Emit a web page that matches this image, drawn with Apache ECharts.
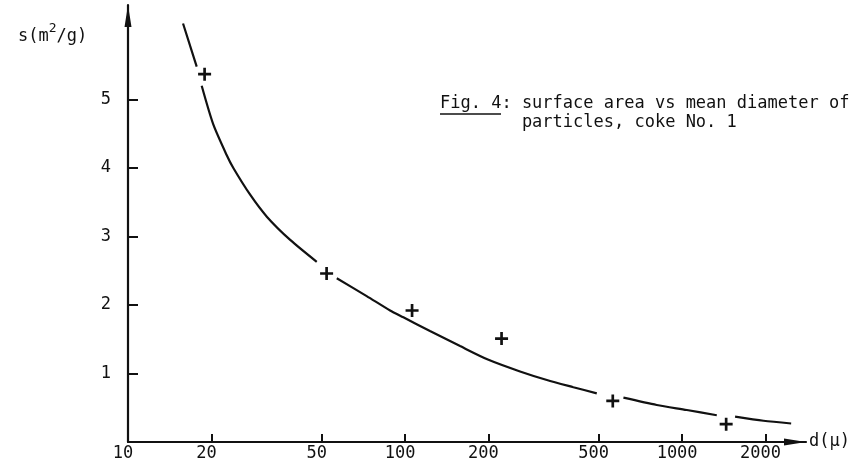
<!DOCTYPE html>
<html>
<head>
<meta charset="utf-8">
<script src="https://cdn.jsdelivr.net/npm/echarts@6/dist/echarts.min.js"></script>
<style>
html,body{margin:0;padding:0;background:#fff;}
#c{width:865px;height:467px;}
</style>
</head>
<body>
<div id="c"></div>
<script>
// Measured points (crosses)
const pointD = [18.9, 52.1, 106, 223, 562, 1442];
const pointS = [5.37, 2.46, 1.92, 1.51, 0.60, 0.26];

// Hand-drawn fitted curve (null = pen gap near a cross)
const curveD = [15.8, 17.7, 18.1, 18.45, 20.3, 22.7, 24.0, 27.6, 31.7, 38.5, 48.0, 52, 56.7, 72.7, 88.3, 98.6, 123, 158, 200, 260, 325, 405, 492, 550, 614, 810, 1040, 1334, 1440, 1553, 1966, 2475];
const curveS = [6.11, 5.48, null, 5.20, 4.64, 4.19, 4.00, 3.61, 3.29, 2.95, 2.63, null, 2.39, 2.13, 1.92, 1.82, 1.62, 1.40, 1.20, 1.03, 0.905, 0.80, 0.71, null, 0.647, 0.54, 0.467, 0.39, null, 0.37, 0.31, 0.27];

const xLabels = [10, 20, 50, 100, 200, 500, 1000, 2000];
const xTicks = [20, 50, 100, 200, 500, 1000, 2000];
const yLabels = [1, 2, 3, 4, 5];

const FONT = '"DejaVu Sans Mono", "Liberation Mono", monospace';
const INK = '#111';

const chart = echarts.init(document.getElementById('c'));
const plus = 'path://M5,0h2.6v5h5v2.6h-5v5h-2.6v-5h-5v-2.6h5z';

chart.setOption({
  backgroundColor: '#fff',
  animation: false,
  grid: {left: 128, right: 59, top: 5, bottom: 25},
  xAxis: {
    type: 'log', logBase: 10, min: 10, max: 2800,
    axisLine: {lineStyle: {color: INK, width: 2.2}, symbol: ['none', 'triangle'], symbolSize: [7, 22], symbolOffset: [0, -11]},
    axisTick: {inside: true, length: 8, lineStyle: {color: INK, width: 2}, customValues: xTicks},
    minorTick: {show: false},
    splitLine: {show: false},
    axisLabel: {customValues: xLabels, formatter: v => String(Math.round(v)), color: INK, fontFamily: FONT, fontSize: 17, margin: 3, padding: [0, 10, 0, 0]}
  },
  yAxis: {
    type: 'value', min: 0, max: 6.38,
    axisLine: {show: true, lineStyle: {color: INK, width: 2.2}, symbol: ['none', 'triangle'], symbolSize: [7, 22], symbolOffset: [0, -11]},
    axisTick: {show: true, inside: true, length: 10, lineStyle: {color: INK, width: 2}, customValues: yLabels},
    splitLine: {show: false},
    axisLabel: {customValues: yLabels, color: INK, fontFamily: FONT, fontSize: 17, margin: 17}
  },
  series: [
    {
      type: 'line',
      data: curveD.map((d, i) => [d, curveS[i] === null ? '-' : curveS[i]]),
      showSymbol: false, smooth: 0.25, connectNulls: false,
      lineStyle: {color: INK, width: 2.2},
      z: 2
    },
    {
      type: 'scatter',
      data: pointD.map((d, i) => [d, pointS[i]]),
      symbol: plus, symbolSize: 13,
      itemStyle: {color: INK, opacity: 1},
      z: 3
    }
  ],
  graphic: [
    {type: 'text', left: 18, top: 22, style: {
      text: '{a|s(m}{b|2}{a|/g)}',
      rich: {
        a: {fontFamily: FONT, fontSize: 17, fill: INK, verticalAlign: 'bottom'},
        b: {fontFamily: FONT, fontSize: 13, fill: INK, verticalAlign: 'top', padding: [0, 0, 10, 0]}
      }
    }},
    {type: 'text', left: 440, top: 95, style: {text: 'Fig. 4: surface area vs mean diameter of', fontFamily: FONT, fontSize: 17, fill: INK}},
    {type: 'text', left: 440, top: 114, style: {text: '        particles, coke No. 1', fontFamily: FONT, fontSize: 17, fill: INK}},
    {type: 'line', shape: {x1: 440, y1: 114, x2: 501, y2: 114}, style: {stroke: INK, lineWidth: 1.5}},
    {type: 'text', left: 809, top: 433, style: {text: 'd(\u03bc)', fontFamily: FONT, fontSize: 17, fill: INK}}
  ]
});
</script>
</body>
</html>
